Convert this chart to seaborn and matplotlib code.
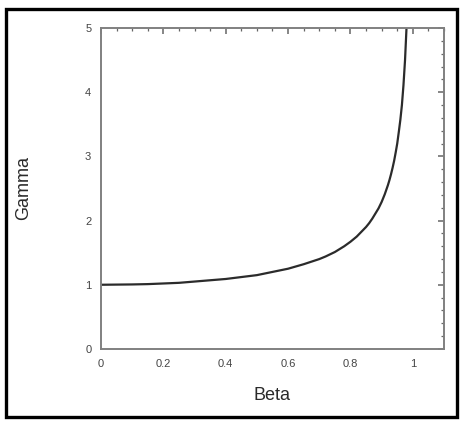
import numpy as np
import pandas as pd
import seaborn as sns
import matplotlib.pyplot as plt
from matplotlib.ticker import MultipleLocator, FormatStrFormatter
from matplotlib.patches import Rectangle

# values
beta = [0.0, 0.1, 0.15, 0.2, 0.25, 0.3, 0.35, 0.4, 0.45, 0.5, 0.55, 0.6, 0.65,
        0.7, 0.72, 0.75, 0.78, 0.8, 0.82, 0.83, 0.85, 0.86, 0.87, 0.88, 0.89,
        0.9, 0.91, 0.92, 0.925, 0.93, 0.935, 0.94, 0.945, 0.95, 0.955, 0.96,
        0.965, 0.97, 0.975, 0.98]
gamma = [1.0, 1.005, 1.01, 1.02, 1.03, 1.05, 1.07, 1.09, 1.12, 1.15, 1.20, 1.25,
         1.32, 1.40, 1.44, 1.51, 1.60, 1.67, 1.75, 1.80, 1.90, 1.96, 2.03, 2.11,
         2.19, 2.29, 2.41, 2.55, 2.63, 2.72, 2.82, 2.93, 3.06, 3.20, 3.38, 3.57,
         3.80, 4.11, 4.50, 5.03]

x_ticks = [0, 0.2, 0.4, 0.6, 0.8, 1]
y_ticks = [0, 1, 2, 3, 4, 5]

df = pd.DataFrame({'Beta': beta, 'Gamma': gamma})

sns.set_style('white')
plt.rcParams['font.family'] = ['Liberation Sans', 'DejaVu Sans']

fig = plt.figure(figsize=(4.71, 4.24), dpi=100)
ax = fig.add_axes([0.2144, 0.177, 0.7283, 0.757])

sns.lineplot(data=df, x='Beta', y='Gamma', color='#2b2b2b', linewidth=1.6, ax=ax)

ax.set_xlim(0, 1.1)
ax.set_ylim(0, 5)
ax.set_xticks(x_ticks)
ax.set_yticks(y_ticks)
ax.xaxis.set_minor_locator(MultipleLocator(0.05))
ax.yaxis.set_minor_locator(MultipleLocator(0.2))
ax.xaxis.set_major_formatter(FormatStrFormatter('%g'))
ax.yaxis.set_major_formatter(FormatStrFormatter('%g'))

ax.tick_params(which='both', direction='in', top=True, right=True,
               color='#666666', labelsize=8, labelcolor='#444444')
ax.tick_params(which='major', length=4, width=1.1)
ax.tick_params(which='minor', length=2, width=0.9)
ax.tick_params(axis='x', pad=7)
ax.tick_params(axis='y', pad=7)

for s in ax.spines.values():
    s.set_color('#808080')
    s.set_linewidth(1.4)

ax.set_xlabel('Beta', fontsize=13, color='#2a2a2a')
ax.set_ylabel('Gamma', fontsize=13, color='#2a2a2a')
ax.xaxis.set_label_coords(0.5, -0.118)
ax.yaxis.set_label_coords(-0.2, 0.5)

# outer frame
fig.patches.append(Rectangle((0.0127, 0.0165), 0.957, 0.9625, transform=fig.transFigure,
                             fill=False, edgecolor='black', linewidth=2.4))

fig.savefig('out.png', dpi=100)
